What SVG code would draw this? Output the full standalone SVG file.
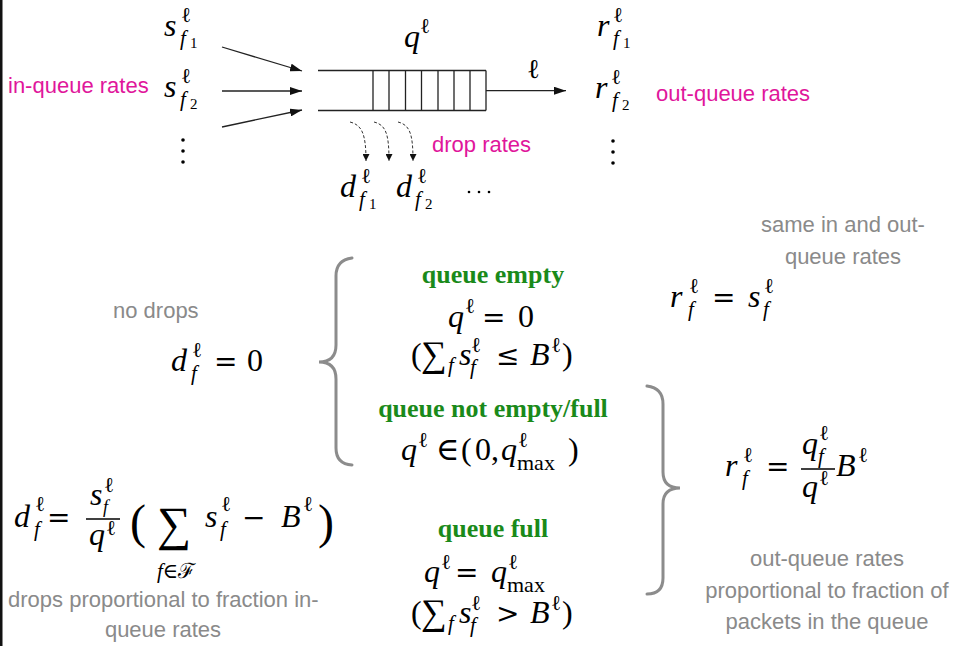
<svg xmlns="http://www.w3.org/2000/svg" width="954" height="646" viewBox="0 0 954 646">
<style>
.m{font-family:"Liberation Serif","DejaVu Serif",serif;font-size:32px;fill:#000}
.i{font-style:italic}
.sp{font-size:21px}
.sn{font-size:15px}
.sm{font-size:22px}
.big{font-size:48px}
.op{font-family:"DejaVu Serif",serif;font-size:28px;fill:#000}
.lab{font-family:"Liberation Sans",Arial,sans-serif;font-size:22px}
.mag{fill:#e0169b}
.gray{fill:#8a8a8a}
.grn{font-family:"Liberation Serif","DejaVu Serif",serif;font-weight:bold;font-size:26px;fill:#1a8a1a;text-anchor:middle}
.ln{stroke:#222;stroke-width:1.3;fill:none}
.brace{stroke:#8c8c8c;stroke-width:3;fill:none;stroke-linecap:round}
.dash{stroke:#333;stroke-width:1;stroke-dasharray:3 2;fill:none}
</style>
<defs>
<marker id="ah" viewBox="0 0 12 8" refX="12" refY="4" markerWidth="12" markerHeight="8" markerUnits="userSpaceOnUse" orient="auto"><path d="M0,0 L12,4 L0,8 z" fill="#111"/></marker>
<marker id="ah2" viewBox="0 0 8 8" refX="8" refY="4" markerWidth="8" markerHeight="7" markerUnits="userSpaceOnUse" orient="auto"><path d="M0,0 L8,4 L0,8 z" fill="#111"/></marker>
</defs>
<rect x="0" y="0" width="954" height="646" fill="#fff"/>
<rect x="0" y="0" width="2.5" height="646" fill="#111"/>

<g id="s-f1"><text class="m i" x="164" y="36">s</text><text class="m sp" x="181" y="22">ℓ</text><text class="m i sp" x="180" y="45">f</text><text class="m sn" x="190" y="48">1</text></g>
<g id="s-f2"><text class="m i" x="164" y="97">s</text><text class="m sp" x="181" y="83">ℓ</text><text class="m i sp" x="180" y="106">f</text><text class="m sn" x="190" y="109">2</text></g>
<g id="s-dots"><circle cx="183" cy="140" r="1.8"/><circle cx="183" cy="151" r="1.8"/><circle cx="183" cy="162" r="1.8"/></g>
<g id="in-label"><text class="lab mag" x="8" y="93">in-queue rates</text></g>

<g id="queue">
<line class="ln" x1="318" y1="70.5" x2="486" y2="70.5"/>
<line class="ln" x1="318" y1="110.5" x2="486" y2="110.5"/>
<path class="ln" d="M373,70.5V110.5M389,70.5V110.5M405.5,70.5V110.5M421.5,70.5V110.5M438,70.5V110.5M454,70.5V110.5M470,70.5V110.5M486,70.5V110.5"/>
<text class="m i" x="404" y="47">q</text><text class="m sp" x="420" y="33">ℓ</text>
</g>
<g id="link-label"><text class="m" style="font-size:27px" x="527" y="78">ℓ</text></g>

<g id="r-f1"><text class="m i" x="597" y="36">r</text><text class="m sp" x="613" y="22">ℓ</text><text class="m i sp" x="613" y="45">f</text><text class="m sn" x="623" y="48">1</text></g>
<g id="r-f2"><text class="m i" x="595" y="98">r</text><text class="m sp" x="611" y="84">ℓ</text><text class="m i sp" x="612" y="107">f</text><text class="m sn" x="622" y="110">2</text></g>
<g id="r-dots"><circle cx="613" cy="141" r="1.8"/><circle cx="613" cy="152" r="1.8"/><circle cx="613" cy="163" r="1.8"/></g>
<g id="out-label"><text class="lab mag" x="656" y="101">out-queue rates</text></g>

<g id="d-f1"><text class="m i" x="340" y="197">d</text><text class="m sp" x="361" y="183">ℓ</text><text class="m i sp" x="359" y="206">f</text><text class="m sn" x="369" y="209">1</text></g>
<g id="d-f2"><text class="m i" x="396" y="197">d</text><text class="m sp" x="417" y="183">ℓ</text><text class="m i sp" x="415" y="206">f</text><text class="m sn" x="425" y="209">2</text></g>
<g id="d-dots"><circle cx="469" cy="192" r="1.3"/><circle cx="479" cy="192" r="1.3"/><circle cx="489" cy="192" r="1.3"/></g>
<g id="drop-label"><text class="lab mag" x="432" y="152">drop rates</text></g>

<g id="connectors">
<line class="ln" x1="222" y1="47" x2="302" y2="71" marker-end="url(#ah)"/>
<line class="ln" x1="222" y1="91" x2="302" y2="91" marker-end="url(#ah)"/>
<line class="ln" x1="222" y1="127" x2="302" y2="110" marker-end="url(#ah)"/>
<line class="ln" x1="486" y1="90.7" x2="566" y2="90.7" marker-end="url(#ah)"/>
<path class="dash" d="M350,122 C362,125 366,134 366,161" marker-end="url(#ah2)"/>
<path class="dash" d="M374,122 C386,125 389,134 389,161" marker-end="url(#ah2)"/>
<path class="dash" d="M398,122 C410,125 413,134 413,161" marker-end="url(#ah2)"/>
<path class="brace" d="M352,258 Q336,260 336,276 L336,345 Q336,362 319,362 Q336,362 336,379 L336,448 Q336,464 352,465"/>
<path class="brace" d="M647,386 Q663,388 663,404 L663,472 Q663,488 680,488 Q663,488 663,504 L663,578 Q663,594 647,594"/>
</g>

<g id="no-drops"><text class="lab gray" x="113" y="318">no drops</text>
<text class="m i" x="171" y="371">d</text><text class="m sp" x="192" y="357">ℓ</text><text class="m i sp" x="191" y="380">f</text><text class="op" x="214" y="371">=</text><text class="m" x="247" y="371">0</text></g>

<g id="queue-empty"><text class="grn" x="493" y="283">queue empty</text>
<text class="m i" x="448" y="327">q</text><text class="m sp" x="465" y="313">ℓ</text><text class="op" x="482" y="327">=</text><text class="m" x="518" y="327">0</text>
<text class="m" x="411" y="365">(</text><text class="m" style="font-size:36px" x="421" y="366">∑</text><text class="m i sp" x="448" y="372">f</text><text class="m i" x="459" y="365">s</text><text class="m sp" x="471" y="352">ℓ</text><text class="m i sp" x="470" y="374">f</text><text class="op" x="496" y="365">≤</text><text class="m i" x="530" y="365">B</text><text class="m sp" x="551" y="352">ℓ</text><text class="m" x="562" y="365">)</text></g>

<g id="queue-partial"><text class="grn" x="493" y="417">queue not empty/full</text>
<text class="m i" x="401" y="460">q</text><text class="m sp" x="418" y="447">ℓ</text><text class="m" x="436" y="460">∈</text><text class="m" x="461" y="460">(</text><text class="m" x="475" y="460">0</text><text class="m" x="491" y="460">,</text><text class="m i" x="501" y="460">q</text><text class="m sp" x="518" y="447">ℓ</text><text class="m sm" x="517" y="470">max</text><text class="m" x="568" y="460">)</text></g>

<g id="queue-full"><text class="grn" x="493" y="537">queue full</text>
<text class="m i" x="424" y="582">q</text><text class="m sp" x="441" y="569">ℓ</text><text class="op" x="455" y="582">=</text><text class="m i" x="491" y="582">q</text><text class="m sp" x="508" y="569">ℓ</text><text class="m sm" x="507" y="592">max</text>
<text class="m" x="411" y="623">(</text><text class="m" style="font-size:36px" x="421" y="624">∑</text><text class="m i sp" x="448" y="630">f</text><text class="m i" x="459" y="623">s</text><text class="m sp" x="471" y="610">ℓ</text><text class="m i sp" x="470" y="632">f</text><text class="op" x="496" y="623">&gt;</text><text class="m i" x="530" y="623">B</text><text class="m sp" x="551" y="610">ℓ</text><text class="m" x="562" y="623">)</text></g>

<g id="same-rates"><text class="lab gray" x="843" y="232" text-anchor="middle">same in and out-</text><text class="lab gray" x="843" y="264" text-anchor="middle">queue rates</text>
<text class="m i" x="670" y="307">r</text><text class="m sp" x="689" y="293">ℓ</text><text class="m i sp" x="688" y="316">f</text><text class="op" x="712" y="307">=</text><text class="m i" x="748" y="307">s</text><text class="m sp" x="764" y="293">ℓ</text><text class="m i sp" x="763" y="316">f</text></g>

<g id="prop-out"><text class="m i" x="725" y="476">r</text><text class="m sp" x="743" y="462">ℓ</text><text class="m i sp" x="742" y="485">f</text><text class="op" x="766" y="476">=</text>
<text class="m i" x="802" y="454">q</text><text class="m sp" x="819" y="440">ℓ</text><text class="m i sp" x="818" y="463">f</text>
<line x1="801" y1="469" x2="835" y2="469" stroke="#000" stroke-width="1.3"/>
<text class="m i" x="802" y="497">q</text><text class="m sp" x="819" y="485">ℓ</text>
<text class="m i" x="836" y="476">B</text><text class="m sp" x="858" y="462">ℓ</text>
<text class="lab gray" x="827" y="566" text-anchor="middle">out-queue rates</text><text class="lab gray" x="827" y="598" text-anchor="middle">proportional to fraction of</text><text class="lab gray" x="827" y="629" text-anchor="middle">packets in the queue</text></g>

<g id="prop-drop"><text class="m i" x="14" y="527">d</text><text class="m sp" x="35" y="511">ℓ</text><text class="m i sp" x="34" y="536">f</text><text class="op" x="47" y="527">=</text>
<text class="m i" x="90" y="505">s</text><text class="m sp" x="104" y="492">ℓ</text><text class="m i" style="font-size:18px" x="103" y="513">f</text>
<line x1="86" y1="519" x2="120" y2="519" stroke="#000" stroke-width="1.3"/>
<text class="m i" x="89" y="545">q</text><text class="m sp" x="106" y="535">ℓ</text>
<text class="m big" x="130" y="538">(</text><text class="m big" x="157" y="540">∑</text>
<text class="m sp" x="157" y="578"><tspan class="i">f</tspan>∈ℱ</text>
<text class="m i" x="205" y="527">s</text><text class="m sp" x="221" y="511">ℓ</text><text class="m i sp" x="220" y="536">f</text><text class="op" x="242" y="527">−</text><text class="m i" x="281" y="527">B</text><text class="m sp" x="303" y="511">ℓ</text><text class="m big" x="318" y="538">)</text>
<text class="lab gray" x="8" y="607">drops proportional to fraction in-</text><text class="lab gray" x="163" y="637" text-anchor="middle">queue rates</text></g>
</svg>
